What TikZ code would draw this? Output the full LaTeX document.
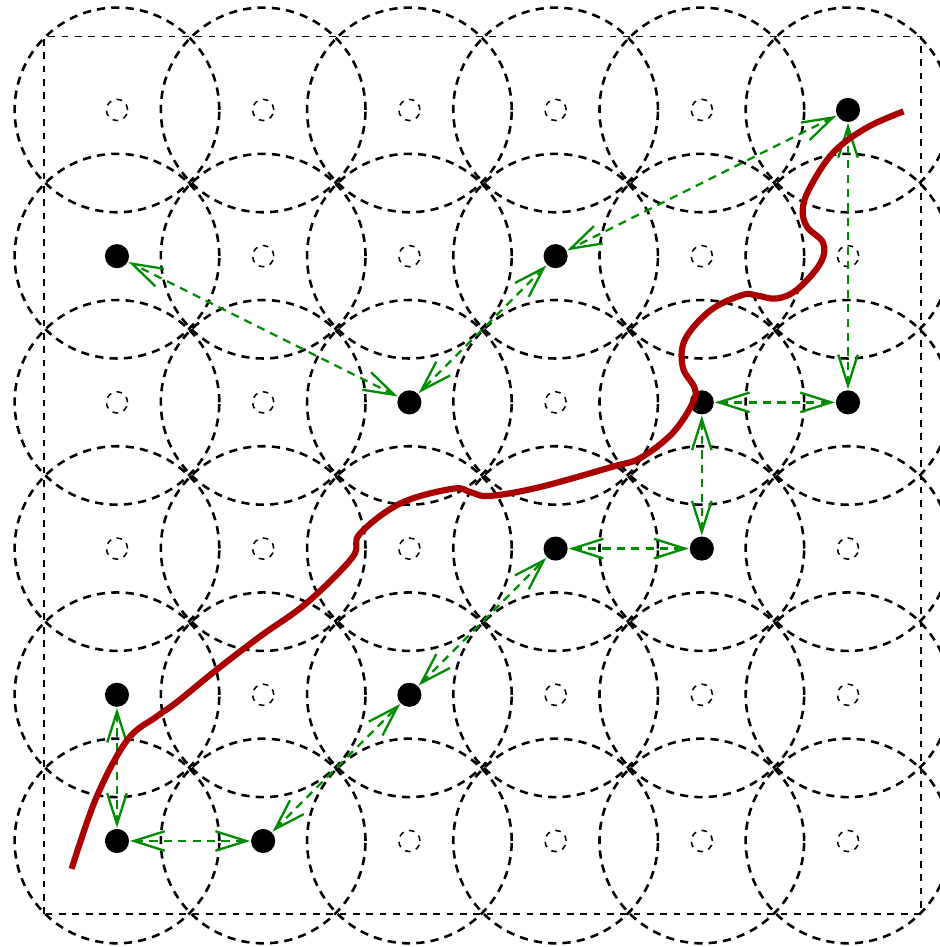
\documentclass[tikz,border=0pt]{standalone}
\usepackage{tikz}
\usetikzlibrary{arrows.meta}
\definecolor{pathred}{RGB}{170,0,0}
\definecolor{linkgreen}{RGB}{0,140,0}

\begin{document}
\begin{tikzpicture}[
    cover/.style={line width=0.5pt,dash pattern=on 1.6pt off 1.2pt},
    occ/.style={circle,fill=black,inner sep=0pt,minimum size=0.165cm},
    free/.style={circle,draw,line width=0.3pt,dash pattern=on 1.1pt off 1.1pt,inner sep=0pt,minimum size=0.145cm},
    link/.style={linkgreen,line width=0.45pt,dash pattern=on 1.6pt off 1.2pt,
      {Straight Barb[length=6pt,width=3.8pt]}-{Straight Barb[length=6pt,width=3.8pt]}}]
   \useasboundingbox (-0.8,-0.725) rectangle (5.629,5.752);
   % field
   \draw[line width=0.25pt,dash pattern=on 1.3pt off 1.3pt] (-0.5,-0.5) rectangle (5.5,5.5);
   % active sensors
   \foreach \i/\j in {5/5,0/4,3/4,2/3,4/3,5/3,3/2,4/2,0/1,2/1,0/0,1/0}
      \node[occ] (s\i\j) at (\i,\j) {};
   % sleeping sensors
   \foreach \i/\j in {0/5,1/5,2/5,3/5,4/5,1/4,2/4,4/4,5/4,0/3,1/3,3/3,
                      0/2,1/2,2/2,5/2,1/1,3/1,4/1,5/1,2/0,3/0,4/0,5/0}
      \node[free] (s\i\j) at (\i,\j) {};
   % sensing discs
   \foreach \i in {0,...,5}
     \foreach \j in {0,...,5}
       \draw[cover] (s\i\j) circle (0.7);
   % links
   \foreach \a/\b in {s00/s10,s00/s01,s10/s21,s21/s32,s32/s42,s42/s43,
                      s43/s53,s53/s55,s55/s34,s34/s23,s23/s04}
      \draw[link] (\a) -- (\b);
   % barrier path
   \draw[pathred,line width=1.2pt] plot[smooth,tension=0.6] coordinates {
      (-0.31,-0.19) (-0.14,0.30) (0.07,0.69) (0.27,0.85) (0.41,0.95)
      (0.68,1.17) (0.98,1.40) (1.30,1.63) (1.61,1.94)
      (1.66,2.10) (1.94,2.31) (2.30,2.41) (2.42,2.385) (2.55,2.36)
      (2.89,2.42) (3.39,2.56) (3.58,2.62) (3.80,2.79) (3.94,3.00)
      (3.95,3.10) (3.87,3.24) (3.885,3.43) (4.06,3.63) (4.28,3.735)
      (4.38,3.73) (4.51,3.71) (4.65,3.77) (4.81,3.95) (4.83,4.09)
      (4.72,4.20) (4.69,4.32) (4.74,4.47) (4.90,4.71) (5.13,4.88) (5.38,4.99)};
\end{tikzpicture}
\end{document}
